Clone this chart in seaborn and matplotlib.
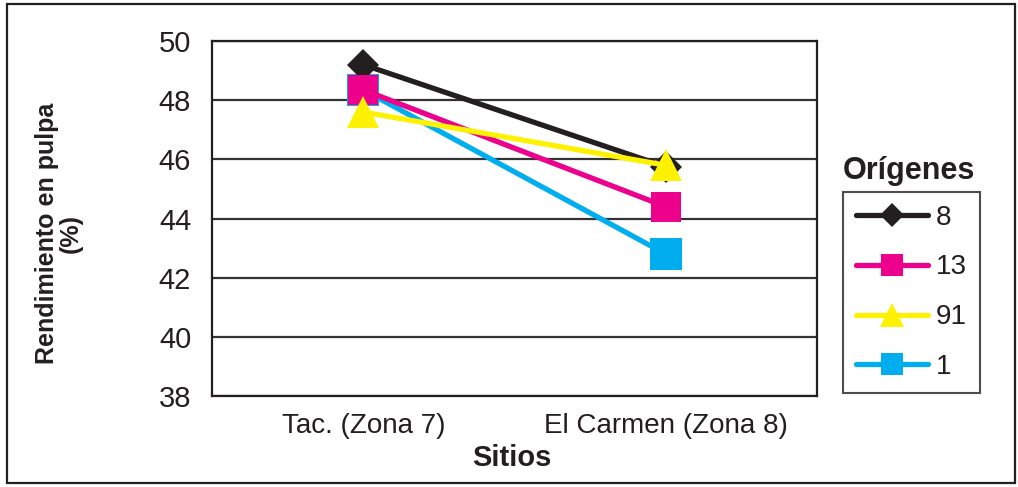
import pandas as pd
import matplotlib.pyplot as plt
import seaborn as sns
from matplotlib.patches import Rectangle

# data
sitios = ["Tac. (Zona 7)", "El Carmen (Zona 8)"]
origenes = ["8", "13", "91", "1"]
rend_8 = [49.2, 45.75]
rend_13 = [48.35, 44.4]
rend_91 = [47.6, 45.8]
rend_1 = [48.35, 42.8]
y_ticks = [38, 40, 42, 44, 46, 48, 50]

colores = {"8": "#231f20", "13": "#ec008c", "91": "#fff200", "1": "#00aeef"}
marcadores = {"8": "D", "13": "s", "91": "^", "1": "s"}
tamanos = {"8": 16, "13": 21, "91": 23, "1": 23}
tamanos_leg = {"8": 12, "13": 16, "91": 17, "1": 16}
orden_z = {"1": 3, "8": 4, "13": 5, "91": 6}

data = pd.DataFrame({
    "Sitio": sitios * 4,
    "Origen": [o for o in origenes for _ in sitios],
    "Rendimiento": rend_8 + rend_13 + rend_91 + rend_1,
})

sns.set_style("white")
plt.rcParams["font.family"] = ["Liberation Sans Narrow", "Liberation Sans", "DejaVu Sans"]

fig = plt.figure(figsize=(10.18, 4.87), dpi=100)
ax = fig.add_axes([212 / 1018, 1 - 396 / 487, 605 / 1018, 355 / 487])

for o in origenes:
    sub = data[data["Origen"] == o]
    sns.lineplot(data=sub, x="Sitio", y="Rendimiento", color=colores[o],
                 marker=marcadores[o], markersize=tamanos[o], markeredgewidth=0,
                 linewidth=3.8, label=o, zorder=orden_z[o], ax=ax, legend=False)

ax.set_xlim(-0.5, 1.5)
ax.set_ylim(38, 50)
ax.set_yticks(y_ticks)
ax.grid(axis="y", color="#333333", linewidth=1.6)
ax.set_axisbelow(True)
ax.set_xticks([0, 1])
ax.set_xticklabels(sitios)
ax.set_xticks([-0.5, 0.5, 1.5], minor=True)
ax.tick_params(axis="x", which="major", length=0, labelsize=20, pad=12)
ax.tick_params(axis="x", which="minor", length=7, width=1.3, direction="out", color="#231f20")
ax.tick_params(axis="y", length=7, width=1.3, direction="out", labelsize=21, pad=8,
               color="#231f20", labelcolor="#231f20")
ax.tick_params(axis="x", labelcolor="#231f20")
for s in ax.spines.values():
    s.set_color("#231f20")
    s.set_linewidth(1.6)

ax.set_xlabel("Sitios", family=["Liberation Sans", "DejaVu Sans"], fontweight="bold",
              fontsize=21, color="#231f20")
ax.xaxis.set_label_coords(0.496, -0.135)
ax.set_ylabel("Rendimiento en pulpa\n(%)", family=["Liberation Sans", "DejaVu Sans"],
              fontweight="bold", fontsize=18, color="#231f20", linespacing=0.95)
ax.yaxis.set_label_coords(-0.214, 0.459)

handles = {l: h for h, l in zip(*ax.get_legend_handles_labels())}
leg = fig.legend([handles[o] for o in origenes], origenes, loc="upper left",
                 bbox_to_anchor=(843 / 1018, 1 - 192 / 487),
                 bbox_transform=fig.transFigure, borderaxespad=0, fontsize=20,
                 frameon=True, fancybox=False, handlelength=2.6, labelspacing=0.86,
                 handletextpad=0.3, borderpad=0.45, labelcolor="#231f20")
for o, h in zip(origenes, leg.legend_handles):
    h.set_markersize(tamanos_leg[o])
leg.get_frame().set_edgecolor("#231f20")
leg.get_frame().set_linewidth(1.5)

fig.text(843 / 1018, 1 - 171 / 487, "Orígenes", family=["Liberation Sans", "DejaVu Sans"],
         fontweight="bold", fontsize=22, color="#231f20", va="center", ha="left")

fig.patches.append(Rectangle((7 / 1018, 4 / 487), 1008 / 1018, 479 / 487,
                             transform=fig.transFigure, fill=False,
                             edgecolor="#231f20", linewidth=1.6))

fig.savefig("out.png", dpi=100)
